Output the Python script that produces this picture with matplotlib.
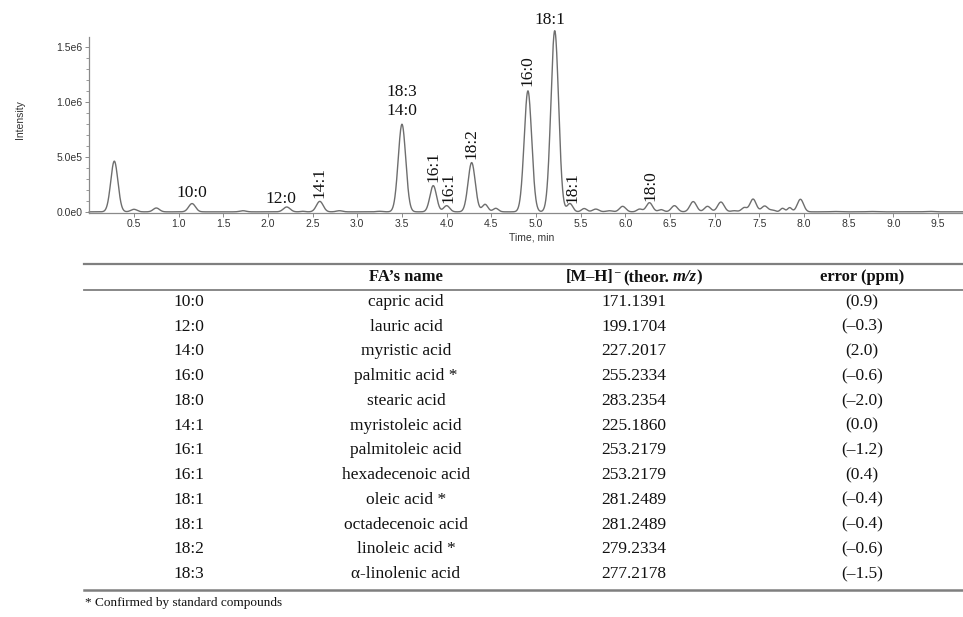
import numpy as np
import matplotlib
matplotlib.use("Agg")
import matplotlib.pyplot as plt
from matplotlib.ticker import AutoMinorLocator, FuncFormatter

# ---------------- data ----------------
# chromatogram peaks: retention time (min), apex intensity, width (sigma, min)
peak_rt = [0.28, 0.50, 0.75, 1.15, 1.72, 2.21, 2.39, 2.58, 2.80, 3.25, 3.50, 3.85, 4.00, 4.28,
           4.43, 4.55, 4.91, 5.21, 5.38, 5.54, 5.67, 5.82, 5.97, 6.16, 6.27, 6.40, 6.55, 6.76,
           6.92, 7.07, 7.22, 7.33, 7.43, 7.56, 7.65, 7.76, 7.84, 7.96, 8.34, 8.75, 9.40]
peak_int = [4.6e5, 2.3e4, 3.5e4, 7.5e4, 1.0e4, 4.4e4, 5e3, 9.5e4, 1.0e4, 5e3, 7.95e5, 2.38e5, 5.6e4, 4.47e5,
            6.8e4, 3.2e4, 1.098e6, 1.644e6, 7.5e4, 3.0e4, 2.5e4, 1.0e4, 5.0e4, 2.5e4, 8.3e4, 2.0e4, 5.6e4, 9.3e4,
            5.0e4, 8.9e4, 1.0e4, 3.8e4, 1.16e5, 5.3e4, 1.5e4, 3.2e4, 3.8e4, 1.14e5, 3e3, 3e3, 4e3]
peak_sig = [0.040, 0.035, 0.035, 0.038, 0.035, 0.038, 0.025, 0.038, 0.035, 0.035, 0.042, 0.037, 0.034, 0.040,
            0.032, 0.030, 0.042, 0.043, 0.032, 0.030, 0.035, 0.035, 0.035, 0.030, 0.035, 0.030, 0.035, 0.037,
            0.035, 0.037, 0.035, 0.030, 0.035, 0.035, 0.030, 0.024, 0.024, 0.035, 0.045, 0.045, 0.045]

# peak annotations: text, x (min), y (intensity), rotation
ann_text = ["10:0", "12:0", "14:1", "18:3", "14:0", "16:1", "16:1", "18:2", "16:0", "18:1", "18:1", "18:0"]
ann_x = [1.15, 2.15, 2.58, 3.50, 3.50, 3.85, 4.02, 4.28, 4.91, 5.16, 5.41, 6.28]
ann_y = [1.71e5, 1.20e5, 2.71e5, 1.09e6, 9.14e5, 4.16e5, 2.20e5, 6.20e5, 1.286e6, 1.741e6, 2.25e5, 2.41e5]
ann_rot = [0, 0, 90, 0, 0, 90, 90, 90, 90, 0, 90, 90]

# table
col_headers = ["", "FA\u2019s name", None, "error (ppm)"]
# m/z header pieces: text, style, size, raise (px), gap after (px)
mz_header_parts = ["[M\u2013H]", "\u2013", "(theor.", "m/z", ")"]
mz_header_styles = ["normal", "normal", "normal", "italic", "normal"]
fa_code = ["10:0", "12:0", "14:0", "16:0", "18:0", "14:1", "16:1", "16:1", "18:1", "18:1", "18:2", "18:3"]
fa_name = ["capric acid", "lauric acid", "myristic acid", "palmitic acid *", "stearic acid",
           "myristoleic acid", "palmitoleic acid", "hexadecenoic acid", "oleic acid *",
           "octadecenoic acid", "linoleic acid *", "\u03b1-linolenic acid"]
mz = ["171.1391", "199.1704", "227.2017", "255.2334", "283.2354", "225.1860", "253.2179",
      "253.2179", "281.2489", "281.2489", "279.2334", "277.2178"]
err = ["(0.9)", "(\u20130.3)", "(2.0)", "(\u20130.6)", "(\u20132.0)", "(0.0)", "(\u20131.2)",
       "(0.4)", "(\u20130.4)", "(\u20130.4)", "(\u20130.6)", "(\u20131.5)"]
footnote = "* Confirmed by standard compounds"

# ---------------- figure ----------------
W, H = 963, 617
fig = plt.figure(figsize=(W / 100, H / 100), dpi=100)
fig.patch.set_facecolor("white")

def fx(px):
    return px / W

def fy(py):
    return 1 - py / H

ax_left, ax_right, ax_top, ax_bot = 89.3, 963, 37.3, 212.5
ax = fig.add_axes([fx(ax_left), fy(ax_bot), fx(ax_right - ax_left), (ax_bot - ax_top) / H])

t = np.linspace(0, 9.8, 4000)
trace = np.zeros_like(t) + 2e3
for rt, h, s in zip(peak_rt, peak_int, peak_sig):
    trace += h * np.exp(-0.5 * ((t - rt) / s) ** 2)
ax.plot(t, trace, color="#6e6e6e", lw=1.0, clip_on=False)

ax.set_xlim(0, 9.78)
ax.set_ylim(-4e3, 1.586e6)
for s in ["top", "right"]:
    ax.spines[s].set_visible(False)
for s in ["left", "bottom"]:
    ax.spines[s].set_color("#8a8a8a")
    ax.spines[s].set_linewidth(0.9)

ax.set_xticks(np.arange(0.5, 9.6, 0.5))
ax.xaxis.set_major_formatter(FuncFormatter(lambda v, p: f"{v:.1f}"))
ax.set_yticks([0, 5e5, 1e6, 1.5e6])
ax.set_yticklabels(["0.0e0", "5.0e5", "1.0e6", "1.5e6"])
ax.yaxis.set_minor_locator(AutoMinorLocator(5))
ax.tick_params(axis="both", which="major", labelsize=7.5, colors="#8a8a8a", labelcolor="#333333",
               length=3, width=0.7, pad=2)
ax.tick_params(axis="y", which="minor", length=2, width=0.6, colors="#8a8a8a")
for lbl in ax.get_xticklabels() + ax.get_yticklabels():
    lbl.set_family(["Liberation Sans", "DejaVu Sans"])

fig.text(fx(20), fy(120), "Intensity", rotation=90, ha="center", va="center",
         fontsize=7.5, color="#333333", family=["Liberation Sans", "DejaVu Sans"])
fig.text(fx(532), fy(238), "Time, min", ha="center", va="center",
         fontsize=7.5, color="#333333", family=["Liberation Sans", "DejaVu Sans"])

for txt, x, y, r in zip(ann_text, ann_x, ann_y, ann_rot):
    ax.text(x, y, txt, rotation=r, ha="center", va="center", fontsize=12.5,
            family=["Liberation Serif", "DejaVu Serif"], color="#111111", clip_on=False)

# ---------------- table ----------------
serif = ["Liberation Serif", "DejaVu Serif"]

rule_x0, rule_x1 = 84, 963
for yy, lw in [(263.5, 1.6), (289.5, 1.3), (589.5, 1.8)]:
    fig.add_artist(plt.Line2D([fx(rule_x0), fx(rule_x1)], [fy(yy), fy(yy)],
                              color="#7f7f7f", lw=lw, transform=fig.transFigure))

col_x = [189, 406, 634, 862]
header_base = 281.0
for cx, hd in zip(col_x, col_headers):
    if hd:
        fig.text(fx(cx), fy(header_base), hd, ha="center", va="baseline", fontsize=12,
                 fontweight="bold", family=serif, color="#111111")

# composite header for the m/z column (bold, with superscript minus and italic m/z)
renderer = fig.canvas.get_renderer()
sizes = [12, 8, 12, 12, 12]
raises = [0, 6, 0, 0, 0]
gaps = [0.5, 3.5, 3.5, -0.5, 0.0]
pieces = []
total_w = 0.0
for part, style, sz, rz, g in zip(mz_header_parts, mz_header_styles, sizes, raises, gaps):
    tt = fig.text(0, fy(header_base - rz), part, ha="left", va="baseline", fontsize=sz,
                  fontweight="bold", fontstyle=style, family=serif, color="#111111")
    w = tt.get_window_extent(renderer=renderer).width
    pieces.append((tt, w, g))
    total_w += w + g
x_cur = col_x[2] - total_w / 2
for tt, w, g in pieces:
    tt.set_x(fx(x_cur))
    x_cur += w + g

row_y0, row_dy = 306.0, 24.73
for i in range(len(fa_code)):
    yy = fy(row_y0 + i * row_dy)
    for cx, val in zip(col_x, [fa_code[i], fa_name[i], mz[i], err[i]]):
        fig.text(fx(cx), yy, val, ha="center", va="baseline", fontsize=12.5,
                 family=serif, color="#111111")

fig.text(fx(85), fy(606), footnote, ha="left", va="baseline", fontsize=9.5,
         family=serif, color="#111111")

fig.savefig("out.png", dpi=100, facecolor="white")
